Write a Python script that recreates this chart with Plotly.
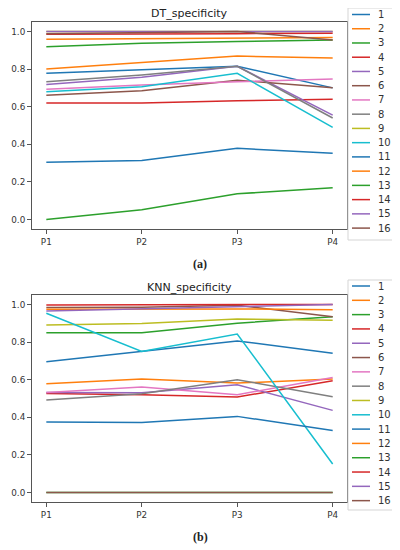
import plotly.graph_objects as go

periods = ["P1", "P2", "P3", "P4"]
names = [str(i) for i in range(1, 17)]
tab10 = ["#1f77b4", "#ff7f0e", "#2ca02c", "#d62728", "#9467bd",
         "#8c564b", "#e377c2", "#7f7f7f", "#bcbd22", "#17becf"]
colors = [tab10[i % 10] for i in range(16)]

# DT specificity, one row per series 1..16
dt_spec = [
    [0.777, 0.795, 0.815, 0.700],
    [0.800, 0.834, 0.869, 0.859],
    [0.919, 0.937, 0.946, 0.955],
    [0.620, 0.620, 0.631, 0.640],
    [0.718, 0.756, 0.815, 0.555],
    [0.661, 0.684, 0.741, 0.700],
    [0.692, 0.715, 0.732, 0.747],
    [0.732, 0.768, 0.815, 0.540],
    [1.000, 1.000, 1.000, 1.000],
    [0.679, 0.706, 0.777, 0.490],
    [0.305, 0.314, 0.379, 0.353],
    [0.958, 0.962, 0.965, 0.967],
    [0.000, 0.052, 0.137, 0.169],
    [0.985, 0.985, 0.988, 0.990],
    [1.000, 1.000, 1.000, 1.000],
    [0.988, 0.993, 1.000, 0.955],
]

# KNN specificity, one row per series 1..16
knn_spec = [
    [0.695, 0.750, 0.806, 0.741],
    [0.578, 0.603, 0.582, 0.603],
    [0.849, 0.850, 0.900, 0.934],
    [0.527, 0.520, 0.508, 0.594],
    [0.532, 0.530, 0.573, 0.437],
    [0.983, 0.985, 0.995, 0.934],
    [0.532, 0.561, 0.520, 0.612],
    [0.492, 0.525, 0.600, 0.509],
    [0.890, 0.898, 0.923, 0.916],
    [0.953, 0.750, 0.843, 0.152],
    [0.375, 0.373, 0.405, 0.330],
    [0.974, 0.975, 0.976, 0.971],
    [0.000, 0.000, 0.000, 0.000],
    [0.997, 0.997, 1.000, 1.000],
    [0.965, 0.977, 0.987, 1.000],
    [0.000, 0.000, 0.000, 0.000],
]

# page body has an 8px margin, so the figure is sized to end at the window edge
OFF = 8
W, H = 400 - OFF, 550 - OFF


def px(x):
    return (x - OFF) / W


def py(y):
    return 1 - (y - OFF) / H


fig = go.Figure()

for k, spec in enumerate([dt_spec, knn_spec]):
    suffix = "" if k == 0 else "2"
    for i, row in enumerate(spec):
        fig.add_trace(go.Scatter(
            x=periods, y=row, mode="lines", name=names[i],
            line=dict(color=colors[i], width=1.5),
            xaxis="x" + suffix, yaxis="y" + suffix, showlegend=False,
        ))

axis_common = dict(
    showline=True, mirror=True, linecolor="#555", linewidth=1,
    ticks="outside", ticklen=4, tickcolor="#555",
    showgrid=False, zeroline=False,
    tickfont=dict(family="DejaVu Sans", size=8.8, color="#333"),
)

fig.update_layout(
    width=W, height=H,
    margin=dict(l=0, r=0, t=0, b=0),
    paper_bgcolor="white", plot_bgcolor="white",
    showlegend=False,
    xaxis=dict(domain=[px(32), px(347)], anchor="y", range=[-0.15, 3.15], **axis_common),
    yaxis=dict(domain=[py(229), py(22)], anchor="x", range=[-0.05, 1.05],
               tickvals=[0, 0.2, 0.4, 0.6, 0.8, 1.0], tickformat=".1f", **axis_common),
    xaxis2=dict(domain=[px(32), px(347)], anchor="y2", range=[-0.15, 3.15], **axis_common),
    yaxis2=dict(domain=[py(502), py(295)], anchor="x2", range=[-0.05, 1.05],
                tickvals=[0, 0.2, 0.4, 0.6, 0.8, 1.0], tickformat=".1f", **axis_common),
)

# titles and captions
for title, ty, cap, cy in [("DT_specificity", 13.5, "(a)", 263.5),
                           ("KNN_specificity", 287.5, "(b)", 537)]:
    fig.add_annotation(text=title, x=px(189.5), y=py(ty), xref="paper", yref="paper",
                       showarrow=False, xanchor="center", yanchor="middle",
                       font=dict(family="DejaVu Sans", size=11, color="#222"))
    fig.add_annotation(text="<b>" + cap + "</b>", x=px(200), y=py(cy), xref="paper", yref="paper",
                       showarrow=False, xanchor="center", yanchor="middle",
                       font=dict(family="Liberation Serif", size=12, color="#222"))

# matplotlib-style legend boxes on the right of each panel
for box_top, box_bot, first, step in [(8, 240, 14.5, 14.24), (280, 510, 286, 14.31)]:
    fig.add_shape(type="rect", xref="paper", yref="paper",
                  x0=px(348), x1=px(393), y0=py(box_bot), y1=py(box_top),
                  line=dict(color="#d5d5d5", width=1), fillcolor="white", layer="above")
    for i, name in enumerate(names):
        yy = first + i * step
        fig.add_shape(type="line", xref="paper", yref="paper",
                      x0=px(352), x1=px(370), y0=py(yy), y1=py(yy),
                      line=dict(color=colors[i], width=1.5), layer="above")
        fig.add_annotation(text=name, x=px(376), y=py(yy), xref="paper", yref="paper",
                           showarrow=False, xanchor="left", yanchor="middle",
                           font=dict(family="DejaVu Sans", size=10, color="#333"))

fig.write_html("out.html")
